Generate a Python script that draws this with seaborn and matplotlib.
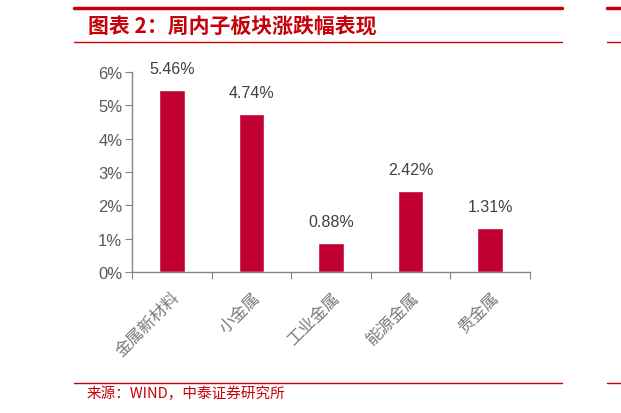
import matplotlib
matplotlib.use('Agg')
import matplotlib.pyplot as plt
import seaborn as sns
import pandas as pd
from matplotlib.lines import Line2D

# data
sectors = ['金属新材料', '小金属', '工业金属', '能源金属', '贵金属']
weekly_chg = [5.46, 4.74, 0.88, 2.42, 1.31]
yticks = [0, 1, 2, 3, 4, 5, 6]

df = pd.DataFrame({'sector': sectors, 'chg': weekly_chg})

sns.set_style('white')
plt.rcParams['font.family'] = ['Liberation Sans', 'Noto Sans CJK SC', 'DejaVu Sans']
plt.rcParams['axes.unicode_minus'] = False

red = '#C00030'
grey = '#595959'

fig = plt.figure(figsize=(6.21, 4.14), dpi=100)
ax = fig.add_axes([132/621, 1-273/414, (530-132)/621, 200/414])

sns.barplot(data=df, x='sector', y='chg', color=red, width=0.32,
            saturation=1, ax=ax)

# value labels above the bars
for i, v in enumerate(weekly_chg):
    ax.annotate('%.2f%%' % v, (i, v), xytext=(0, 10), textcoords='offset points',
                ha='center', va='bottom', fontsize=11.5, color='#404040')

ax.set_xlim(-0.5, len(sectors) - 0.5)
ax.set_ylim(0, 6)
ax.set_yticks(yticks)
ax.set_yticklabels(['%d%%' % t for t in yticks], fontsize=12, color=grey)
ax.set_xlabel('')
ax.set_ylabel('')

# ticks between categories, labels at the centre
ax.set_xticks([i + 0.5 for i in range(-1, len(sectors))])
ax.set_xticklabels([])
ax.set_xticks(range(len(sectors)), minor=True)
ax.set_xticklabels(sectors, minor=True, rotation=45, ha='right',
                   rotation_mode='anchor', fontsize=12, color='#7a7a7a',
                   family=['Noto Sans CJK SC'])
ax.tick_params(axis='x', which='minor', length=0, pad=12)
ax.tick_params(axis='x', which='major', direction='out', length=5,
               color='#868686', bottom=True)
ax.tick_params(axis='y', direction='out', length=5, color='#868686',
               left=True, pad=2)

for s in ['top', 'right']:
    ax.spines[s].set_visible(False)
for s in ['left', 'bottom']:
    ax.spines[s].set_color('#868686')
    ax.spines[s].set_linewidth(1)

# page decorations: title bar and source line
def hline(x0, x1, y, lw):
    fig.add_artist(Line2D([x0/621, x1/621], [1-y/414, 1-y/414],
                          color='#C8000A', lw=lw, transform=fig.transFigure))

hline(74, 562, 9, 2.5)
hline(607, 621, 9, 2.5)
hline(74, 562, 42.5, 1.0)
hline(607, 621, 42.5, 1.0)
hline(74, 562, 383.5, 1.0)
hline(607, 621, 383.5, 1.0)

fig.text(88/621, 1-27/414, '图表 2：周内子板块涨跌幅表现', color='#C8000A',
         fontsize=15, fontweight='bold', va='center', ha='left',
         family=['Noto Sans CJK SC', 'DejaVu Sans'])
fig.text(87/621, 1-394/414, '来源：WIND，中泰证券研究所', color='#C8000A',
         fontsize=10.5, va='center', ha='left',
         family=['Noto Sans CJK SC', 'DejaVu Sans'])

fig.savefig('out.png', dpi=100)
